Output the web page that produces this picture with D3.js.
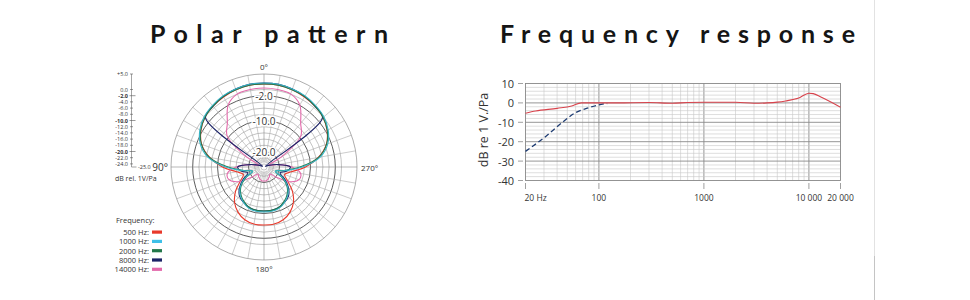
<!DOCTYPE html>
<html lang="en">
<head>
<meta charset="utf-8">
<title>Polar pattern / Frequency response</title>
<script src="https://d3js.org/d3.v7.min.js"></script>
<style>
body { margin: 0; background: #fff; }
text { font-family: "Open Sans", sans-serif; fill: #333; }
.title { font-family: Lato, sans-serif; font-weight: 700; font-size: 25px; fill: #151515; }
</style>
</head>
<body>
<div id="chart"></div>
<script>
// ---- polar pattern data (dB, angle in degrees, mirrored for 190..350)
const polarAngles = [0, 10, 20, 30, 40, 50, 60, 70, 80, 90, 100, 110, 120, 130, 140, 150, 160, 170, 180];
const db500   = [1.8, 1.8, 1.5, 1.1, 0.6, -0.1, -1.5, -3.6, -7.2, -11.6, -16.0, -17.9, -16.3, -13.1, -10.2, -8.2, -6.9, -6.3, -6.3];
const db1000  = [2.1, 2.1, 1.8, 1.5, 0.9, 0.2, -1.1, -3.1, -6.6, -12.7, -18.2, -21.1, -17.9, -15.0, -13.1, -11.8, -10.8, -10.5, -10.5];
const db2000  = [1.8, 1.8, 1.5, 1.2, 0.6, -0.1, -1.4, -3.5, -7.1, -13.4, -18.5, -21.1, -18.2, -15.3, -13.4, -12.1, -11.1, -10.8, -10.8];
const db8000  = [2.1, 2.1, 1.8, 1.3, 0.6, -0.4, -24.5, -23.5, -20.5, -16.5, -17.5, -19.5, -17.3, -14.7, -12.7, -11.8, -11.1, -10.8, -10.8];
const db14000 = [0.5, 0.4, 0.1, -1.9, -6.6, -9.5, -18.5, -23.4, -20.5, -16.0, -13.0, -13.0, -15.5, -20.0, -22.0, -21.5, -21.0, -20.5, -20.5];

const legendLabels = ["500 Hz:", "1000 Hz:", "2000 Hz:", "8000 Hz:", "14000 Hz:"];
const legendColors = ["#e8392b", "#3fc0e8", "#23784a", "#1b2266", "#e36aab"];

const ringLevels = [5, 0, -2, -4, -6, -8, -10, -12, -14, -16, -18, -20, -22, -24];
const ringLabels = [-2, -10, -20];
const scaleLevels = [5, 0, -2, -4, -6, -8, -10, -12, -14, -16, -18, -20, -22, -24];
const scaleBold = [-2, -10, -20];
const angleLabels = [0, 90, 180, 270];

// ---- frequency response data
const respFreq = [20, 25, 40, 55, 68, 100, 150, 300, 500, 700, 1000, 2000, 3000, 4000, 5000, 6000, 8000, 10000, 11000, 13000, 20000];
const respDb   = [-5.3, -4.2, -2.8, -1.6, 0, 0, 0, 0.2, -0.2, 0.2, 0.3, 0.3, -0.2, 0, 0.4, 1, 2.5, 5, 4.8, 3, -2.2];
const cutFreq = [20, 30, 45, 60, 80, 100, 120];
const cutDb   = [-25, -18, -10, -5, -2.5, -1, -0.3];
const yTicks = [10, 0, -10, -20, -30, -40];
const xTickVals = [20, 100, 1000, 10000, 20000];
const xTickLabels = ["20 Hz", "100", "1000", "10 000", "20 000"];

const svg = d3.select("#chart").append("svg")
  .attr("width", 970).attr("height", 300);

// separator on the right
svg.append("line").attr("x1", 874.5).attr("x2", 874.5).attr("y1", 0).attr("y2", 256)
  .attr("stroke", "#e2e2e2");
svg.append("line").attr("x1", 874.5).attr("x2", 874.5).attr("y1", 256).attr("y2", 300)
  .attr("stroke", "#c4c4c4");

// titles
svg.append("text").attr("class", "title").attr("x", 150).attr("y", 43)
  .attr("textLength", 238).attr("lengthAdjust", "spacing").text("Polar pattern");
svg.append("text").attr("class", "title").attr("x", 500).attr("y", 43)
  .attr("textLength", 355).attr("lengthAdjust", "spacing").text("Frequency response");

// ================= polar =================
const cx = 264, cy = 167, R = 93;
const r = d3.scaleLinear().domain([-25, 5]).range([0, R]);
const gP = svg.append("g").attr("transform", `translate(${cx},${cy})`);

gP.selectAll("circle.ring").data(ringLevels).join("circle")
  .attr("class", "ring")
  .attr("r", d => r(d))
  .attr("fill", "none")
  .attr("stroke", d => ringLabels.includes(d) ? "#333" : d == 5 ? "#777" : "#9a9a9a")
  .attr("stroke-width", d => ringLabels.includes(d) ? 0.8 : 0.6);

const rad = a => a * Math.PI / 180;
gP.selectAll("line.spoke").data(d3.range(0, 360, 10)).join("line")
  .attr("class", "spoke")
  .attr("x1", d => -Math.sin(rad(d)) * r(-23.5))
  .attr("y1", d => -Math.cos(rad(d)) * r(-23.5))
  .attr("x2", d => -Math.sin(rad(d)) * R)
  .attr("y2", d => -Math.cos(rad(d)) * R)
  .attr("stroke", d => d % 90 == 0 ? "#888" : "#aaa")
  .attr("stroke-width", 0.6);

gP.selectAll("text.ringlab").data(ringLabels).join("text")
  .attr("class", "ringlab")
  .attr("x", 0).attr("y", d => -r(d))
  .attr("text-anchor", "middle").attr("dominant-baseline", "central")
  .attr("font-size", 10).attr("fill", "#222")
  .attr("stroke", "#fff").attr("stroke-width", 3).attr("paint-order", "stroke")
  .text(d => d.toFixed(1));

gP.selectAll("text.anglab").data(angleLabels).join("text")
  .attr("class", "anglab")
  .attr("x", d => d == 90 ? -R - 3 : d == 270 ? R + 4 : 0)
  .attr("y", d => d == 0 ? -R - 4 : d == 180 ? R + 12 : 0)
  .attr("text-anchor", d => d == 90 ? "end" : d == 270 ? "start" : "middle")
  .attr("dominant-baseline", d => (d == 90 || d == 270) ? "central" : "auto")
  .attr("font-size", d => d == 90 ? 10 : 8)
  .attr("fill", "#333")
  .text(d => d + "°");

const fullAngles = polarAngles.concat(polarAngles.slice(1, -1).reverse().map(a => 360 - a));
const fullValues = v => v.concat(v.slice(1, -1).reverse());

const radial = d3.lineRadial()
  .angle(d => -rad(d[0]))
  .radius(d => r(d[1]))
  .curve(d3.curveCatmullRomClosed.alpha(0.5));

const polarSeries = [
  { vals: db500, color: legendColors[0] },
  { vals: db14000, color: legendColors[4] },
  { vals: db8000, color: legendColors[3] },
  { vals: db2000, color: legendColors[2] },
  { vals: db1000, color: "#36b3c4" }
];
polarSeries.forEach(s => {
  const v = fullValues(s.vals);
  gP.append("path")
    .datum(fullAngles.map((a, i) => [a, v[i]]))
    .attr("d", radial)
    .attr("fill", "none")
    .attr("stroke", s.color)
    .attr("stroke-width", 1.1);
});

// left dB scale
const sx = 131.5;
const gS = svg.append("g");
gS.append("path")
  .attr("d", `M${sx},${cy - r(5)}V${cy}H${sx + 5}`)
  .attr("fill", "none").attr("stroke", "#666").attr("stroke-width", 0.6);
gS.selectAll("line.stick").data(scaleLevels).join("line")
  .attr("x1", d => scaleBold.includes(d) ? sx - 2 : sx - 1.5)
  .attr("x2", d => scaleBold.includes(d) ? sx + 4 : sx + 1.5)
  .attr("y1", d => cy - r(d)).attr("y2", d => cy - r(d))
  .attr("stroke", "#555").attr("stroke-width", 0.6);
gS.selectAll("text.slab").data(scaleLevels).join("text")
  .attr("x", sx - 3.5).attr("y", d => cy - r(d))
  .attr("text-anchor", "end").attr("dominant-baseline", "central")
  .attr("font-size", 5.5)
  .attr("font-weight", d => scaleBold.includes(d) ? 700 : 400)
  .attr("fill", "#444")
  .text(d => (d > 0 ? "+" : "") + d.toFixed(1));
gS.append("text").attr("x", sx + 6.5).attr("y", cy).attr("dominant-baseline", "central")
  .attr("font-size", 5.5).attr("fill", "#444").text("-25.0");
gS.append("text").attr("x", 115).attr("y", 180.5)
  .attr("font-size", 7).attr("fill", "#555").text("dB rel. 1V/Pa");

// legend
svg.append("text").attr("x", 116).attr("y", 222.5)
  .attr("font-size", 7.5).attr("fill", "#333").text("Frequency:");
const lg = svg.selectAll("g.leg").data(legendLabels).join("g")
  .attr("transform", (d, i) => `translate(0,${232 + i * 9.3})`);
lg.append("text").attr("x", 149).attr("y", 0).attr("dominant-baseline", "central")
  .attr("text-anchor", "end").attr("font-size", 7.5).attr("fill", "#333").text(d => d);
lg.append("rect").attr("x", 152).attr("y", -1.5).attr("width", 10).attr("height", 3.2)
  .attr("fill", (d, i) => legendColors[i]);

// ================= frequency response =================
const x = d3.scaleLog().domain([20, 20000]).range([525.5, 840.5]);
const y = d3.scaleLinear().domain([-40, 10]).range([180.5, 83.5]);
const gF = svg.append("g");

const minorF = [];
[10, 100, 1000, 10000].forEach(dec => {
  for (let k = 1; k <= 9; k++) {
    const f = dec * k;
    if (f > 20 && f < 20000) minorF.push(f);
  }
});
gF.selectAll("line.vg").data(minorF).join("line")
  .attr("x1", d => x(d)).attr("x2", d => x(d))
  .attr("y1", y(10)).attr("y2", y(-40))
  .attr("stroke", d => [100, 1000, 10000].includes(d) ? "#8a8a8a" : "#c8c8c8")
  .attr("stroke-width", d => [100, 1000, 10000].includes(d) ? 0.9 : 0.6);
gF.selectAll("line.hg").data(d3.range(-38, 10, 2)).join("line")
  .attr("x1", x(20)).attr("x2", x(20000))
  .attr("y1", d => y(d)).attr("y2", d => y(d))
  .attr("stroke", d => d % 10 == 0 ? "#8a8a8a" : "#c8c8c8")
  .attr("stroke-width", d => d % 10 == 0 ? 0.9 : 0.6);
gF.append("rect").attr("x", x(20)).attr("y", y(10))
  .attr("width", x(20000) - x(20)).attr("height", y(-40) - y(10))
  .attr("fill", "none").attr("stroke", "#888").attr("stroke-width", 0.9);

// y axis ticks
gF.selectAll("line.yt").data(yTicks).join("line")
  .attr("x1", 518).attr("x2", 523)
  .attr("y1", d => y(d)).attr("y2", d => y(d))
  .attr("stroke", "#888").attr("stroke-width", 0.8);
gF.selectAll("text.yl").data(yTicks).join("text")
  .attr("x", 514).attr("y", d => y(d)).attr("dominant-baseline", "central")
  .attr("text-anchor", "end").attr("font-size", 11).attr("fill", "#333")
  .text(d => d);
gF.append("text")
  .attr("transform", `translate(488,130) rotate(-90)`)
  .attr("text-anchor", "middle").attr("font-size", 12.5).attr("fill", "#333")
  .text("dB re 1 V./Pa");

// x axis ticks
gF.selectAll("line.xt").data(xTickVals).join("line")
  .attr("x1", d => x(d)).attr("x2", d => x(d))
  .attr("y1", 183).attr("y2", 189)
  .attr("stroke", "#888").attr("stroke-width", 0.8);
gF.selectAll("text.xl").data(xTickVals).join("text")
  .attr("x", (d, i) => i == 0 ? x(d) - 1 : x(d))
  .attr("y", 201)
  .attr("text-anchor", (d, i) => i == 0 ? "start" : "middle")
  .attr("font-size", 8.5).attr("fill", "#333")
  .text((d, i) => xTickLabels[i]);

// curves
const fline = d3.line().x(d => x(d[0])).y(d => y(d[1])).curve(d3.curveMonotoneX);
gF.append("path")
  .datum(cutFreq.map((f, i) => [f, cutDb[i]]))
  .attr("d", fline).attr("fill", "none")
  .attr("stroke", "#1f3d73").attr("stroke-width", 1.3)
  .attr("stroke-dasharray", "5,3");
gF.append("path")
  .datum(respFreq.map((f, i) => [f, respDb[i]]))
  .attr("d", fline).attr("fill", "none")
  .attr("stroke", "#d8434c").attr("stroke-width", 1.1);
</script>
</body>
</html>
